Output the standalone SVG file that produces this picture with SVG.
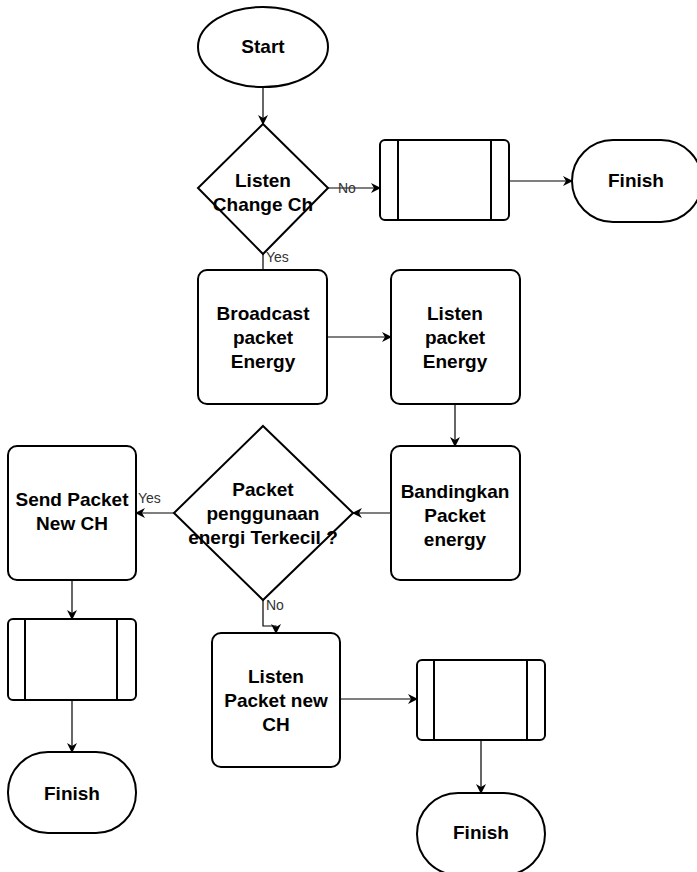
<svg xmlns="http://www.w3.org/2000/svg" width="697" height="872" viewBox="0 0 697 872">
  <defs>
    <marker id="arrow" viewBox="0 0 10 10" refX="9" refY="5" markerWidth="10" markerHeight="10" markerUnits="userSpaceOnUse" orient="auto">
      <path d="M0,0 L10,5 L0,10 L3,5 Z" fill="#000"/>
    </marker>
  </defs>
  <style>
    .shape { fill: #fff; stroke: #000; stroke-width: 2; }
    .inner { fill: none; stroke: #000; stroke-width: 2; }
    .edge { fill: none; stroke: #000; stroke-width: 1.2; marker-end: url(#arrow); }
    .line { fill: none; stroke: #000; stroke-width: 1.2; }
    .txt { font-family: "Liberation Sans", Arial, sans-serif; font-weight: bold; font-size: 19px; fill: #000; text-anchor: middle; }
    .lbl { font-family: "Liberation Sans", Arial, sans-serif; font-size: 14px; fill: #333; }
  </style>
  <rect width="697" height="872" fill="#fff"/>

  <!-- connectors -->
  <g id="connectors">
    <path class="edge" d="M263,87 L263,124"/>
    <path class="edge" d="M328,188 L380,188"/>
    <path class="edge" d="M509,181 L572,181"/>
    <path class="line" d="M263,254 L263,270"/>
    <path class="edge" d="M327,337 L391,337"/>
    <path class="edge" d="M455,404 L455,446"/>
    <path class="edge" d="M391,513 L353,513"/>
    <path class="edge" d="M174,513 L136,513"/>
    <path class="edge" d="M72,580 L72,619"/>
    <path class="edge" d="M72,700 L72,752"/>
    <path class="edge" d="M263,600 L263,626 L276,626 L276,633"/>
    <path class="edge" d="M340,699 L417,699"/>
    <path class="edge" d="M481,740 L481,793"/>
    <text class="lbl" x="338" y="193">No</text>
    <text class="lbl" x="266" y="262">Yes</text>
    <text class="lbl" x="138" y="503">Yes</text>
    <text class="lbl" x="266" y="610">No</text>
  </g>

  <g id="start">
    <ellipse class="shape" cx="263" cy="47" rx="65" ry="40"/>
    <text class="txt" x="263" y="53">Start</text>
  </g>

  <g id="listen-change-ch">
    <path class="shape" d="M263,124 L328,188 L263,254 L198,188 Z"/>
    <text class="txt" x="263" y="187">Listen</text>
    <text class="txt" x="263" y="211">Change Ch</text>
  </g>

  <g id="subprocess-1">
    <rect class="shape" x="380" y="140" width="129" height="80" rx="5"/>
    <path class="inner" d="M398,140 V220 M491,140 V220"/>
  </g>

  <g id="finish-1">
    <rect class="shape" x="572" y="140" width="130" height="82" rx="41"/>
    <text class="txt" x="636" y="187">Finish</text>
  </g>

  <g id="broadcast">
    <rect class="shape" x="198" y="270" width="129" height="134" rx="9"/>
    <text class="txt" x="263" y="320">Broadcast</text>
    <text class="txt" x="263" y="344">packet</text>
    <text class="txt" x="263" y="368">Energy</text>
  </g>

  <g id="listen-energy">
    <rect class="shape" x="391" y="270" width="129" height="134" rx="9"/>
    <text class="txt" x="455" y="320">Listen</text>
    <text class="txt" x="455" y="344">packet</text>
    <text class="txt" x="455" y="368">Energy</text>
  </g>

  <g id="bandingkan">
    <rect class="shape" x="391" y="446" width="129" height="134" rx="9"/>
    <text class="txt" x="455" y="498">Bandingkan</text>
    <text class="txt" x="455" y="522">Packet</text>
    <text class="txt" x="455" y="546">energy</text>
  </g>

  <g id="decision-energy">
    <path class="shape" d="M263,426 L353,513 L263,600 L174,513 Z"/>
    <text class="txt" x="263" y="496">Packet</text>
    <text class="txt" x="263" y="520">penggunaan</text>
    <text class="txt" x="263" y="544">energi Terkecil ?</text>
  </g>

  <g id="send-new-ch">
    <rect class="shape" x="8" y="446" width="128" height="134" rx="9"/>
    <text class="txt" x="72" y="506">Send Packet</text>
    <text class="txt" x="72" y="530">New CH</text>
  </g>

  <g id="subprocess-2">
    <rect class="shape" x="8" y="619" width="128" height="81" rx="5"/>
    <path class="inner" d="M25,619 V700 M117,619 V700"/>
  </g>

  <g id="finish-2">
    <rect class="shape" x="8" y="752" width="128" height="81" rx="40"/>
    <text class="txt" x="72" y="800">Finish</text>
  </g>

  <g id="listen-new-ch">
    <rect class="shape" x="212" y="633" width="128" height="134" rx="9"/>
    <text class="txt" x="276" y="683">Listen</text>
    <text class="txt" x="276" y="707">Packet new</text>
    <text class="txt" x="276" y="731">CH</text>
  </g>

  <g id="subprocess-3">
    <rect class="shape" x="417" y="660" width="128" height="80" rx="5"/>
    <path class="inner" d="M434,660 V740 M527,660 V740"/>
  </g>

  <g id="finish-3">
    <rect class="shape" x="417" y="793" width="128" height="82" rx="41"/>
    <text class="txt" x="481" y="839">Finish</text>
  </g>
</svg>
